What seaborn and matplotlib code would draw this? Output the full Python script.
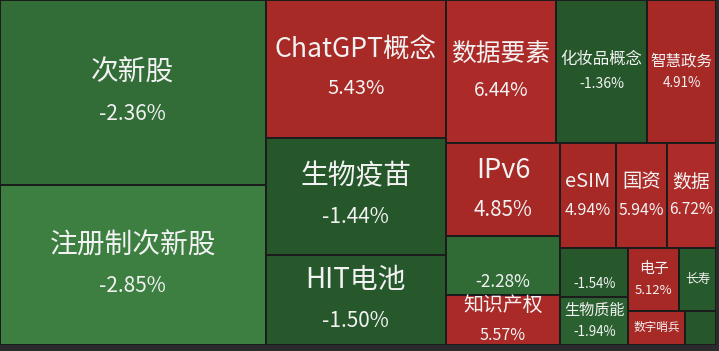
import numpy as np
import matplotlib
matplotlib.use("Agg")
import matplotlib.pyplot as plt
from matplotlib.patches import Rectangle
import seaborn as sns

# sector names (blank where the reference label is hidden)
names = ["次新股", "注册制次新股", "ChatGPT概念", "生物疫苗", "HIT电池",
         "数据要素", "化妆品概念", "智慧政务",
         "IPv6", "", "知识产权",
         "eSIM", "国资", "数据",
         "", "生物质能",
         "电子", "长寿", "数字哨兵", ""]
# daily change in percent
changes = [-2.36, -2.85, 5.43, -1.44, -1.50,
           6.44, -1.36, 4.91,
           4.85, -2.28, 5.57,
           4.94, 5.94, 6.72,
           -1.54, -1.94,
           5.12, -1.60, 5.30, -1.40]
# block weight (area of each cell)
weights = [493, 424, 248, 211, 162,
           158, 131, 99,
           106, 68, 57,
           58, 54, 51,
           33, 33,
           32, 23, 19.5, 10.5]

# nesting of the treemap: 'h' = side by side, 'v' = stacked
layout = ("h", [
    ("v", [0, 1]),
    ("v", [2, 3, 4]),
    ("v", [
        ("h", [5, 6, 7]),
        ("h", [
            ("v", [8, 9, 10]),
            ("v", [
                ("h", [11, 12, 13]),
                ("h", [
                    ("v", [14, 15]),
                    ("v", [("h", [16, 17]), ("h", [18, 19])]),
                ]),
            ]),
        ]),
    ]),
])


def total(node):
    if isinstance(node, int):
        return weights[node]
    return sum(total(c) for c in node[1])


def slice_dice(node, x, y, w, h, out):
    if isinstance(node, int):
        out[node] = (x, y, w, h)
        return
    direction, kids = node
    s = total(node)
    pos = 0.0
    for k in kids:
        frac = total(k) / s
        if direction == "h":
            slice_dice(k, x + pos * w, y, frac * w, h, out)
        else:
            slice_dice(k, x, y + pos * h, w, frac * h, out)
        pos += frac


sns.set_theme(style="white")
plt.rcParams["font.family"] = ["Noto Sans CJK SC", "DejaVu Sans"]

greens = sns.blend_palette(["#25572a", "#3c7f41"], as_cmap=True)
reds = sns.blend_palette(["#a62926", "#ad2b28"], as_cmap=True)


def cell_color(v):
    if v < 0:
        return greens(np.clip((-v - 1.4) / 1.45, 0, 1) ** 1.4)
    return reds(np.clip((v - 4.8) / 2.0, 0, 1))


W, H = 716, 345
fig = plt.figure(figsize=(7.19, 3.51), dpi=100, facecolor="#2b2b2e")
ax = fig.add_axes([0, 6 / 351, W / 719, H / 351])
ax.set_xlim(0, W)
ax.set_ylim(H, 0)
ax.axis("off")

rects = {}
slice_dice(layout, 0, 0, W, H, rects)

renderer = fig.canvas.get_renderer()
px = 100 / 72  # pixels per point

for i, (x, y, w, h) in rects.items():
    ax.add_patch(Rectangle((x, y), w, h, facecolor=cell_color(changes[i]),
                           edgecolor="#1b1b1b", linewidth=1.4))
    cx, cy = x + w / 2, y + h / 2
    fs = min(20, 0.19 * np.sqrt(w * h))
    show_pct = w >= 45 and h >= 45
    show_name = w >= 33 and names[i] != ""
    if show_name:
        t = ax.text(cx, cy, names[i], ha="center", va="center",
                    fontsize=fs, color="#f2f2f2")
        tw = t.get_window_extent(renderer).width
        if tw > 0.9 * w:
            fs = fs * 0.9 * w / tw
            t.set_fontsize(fs)
        if show_pct:
            t.set_y(cy - 0.72 * fs * px)
    if show_pct:
        ax.text(cx, cy + 0.75 * fs * px, f"{changes[i]:.2f}%", ha="center",
                va="center", fontsize=0.6 * fs + 3, color="#f2f2f2")

fig.savefig("out.png", dpi=100, facecolor=fig.get_facecolor())
